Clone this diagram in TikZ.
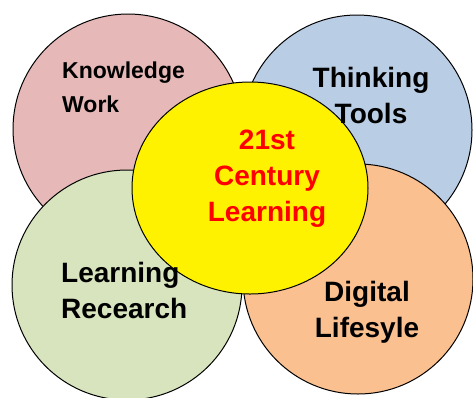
\documentclass[tikz,border=0pt]{standalone}
\usepackage{fontspec}
\setmainfont{Liberation Sans}
\usepackage{xcolor}
\definecolor{knowpink}{HTML}{E6B9B8}
\definecolor{toolblue}{HTML}{B9CDE5}
\definecolor{resgreen}{HTML}{D7E4BD}
\definecolor{lifeorange}{HTML}{FAC090}
\usetikzlibrary{shapes.geometric}

\begin{document}
\begin{tikzpicture}[x=1pt, y=-1pt,
    bubble/.style={circle, draw=black, line width=1pt, minimum size=230pt, inner sep=0pt},
    lbl/.style={font=\bfseries\fontsize{28}{36}\selectfont, inner sep=0pt, align=center, anchor=north}]
    \useasboundingbox (0,0) rectangle (473,397);
    \clip (0,0) rectangle (473,397);

    % the four areas
    \node [bubble, fill=knowpink] (know) at (128,129) {};
    \node [bubble, fill=toolblue] (tools) at (357,130) {};
    \node [bubble, fill=resgreen] (res) at (127,285) {};
    \node [bubble, fill=lifeorange] (life) at (358,279) {};

    % centre
    \node [ellipse, draw=black, line width=1pt, fill=yellow,
      minimum width=236pt, minimum height=212pt, inner sep=0pt] (centre) at (250,188) {};

    \node [lbl, font=\bfseries\fontsize{23}{34}\selectfont, align=left, anchor=north west]
      (knowtxt) at (62,62) {Knowledge\\Work};
    \node [lbl] (toolstxt) at (371,67) {Thinking\\Tools};
    \node [lbl, text=red] (centretxt) at (267,130) {21st\\Century\\Learning};
    \node [lbl, align=left, anchor=north west] (restxt) at (61,262) {Learning\\Recearch};
    \node [lbl] (lifetxt) at (367,281) {Digital\\Lifesyle};

  \end{tikzpicture}
\end{document}
